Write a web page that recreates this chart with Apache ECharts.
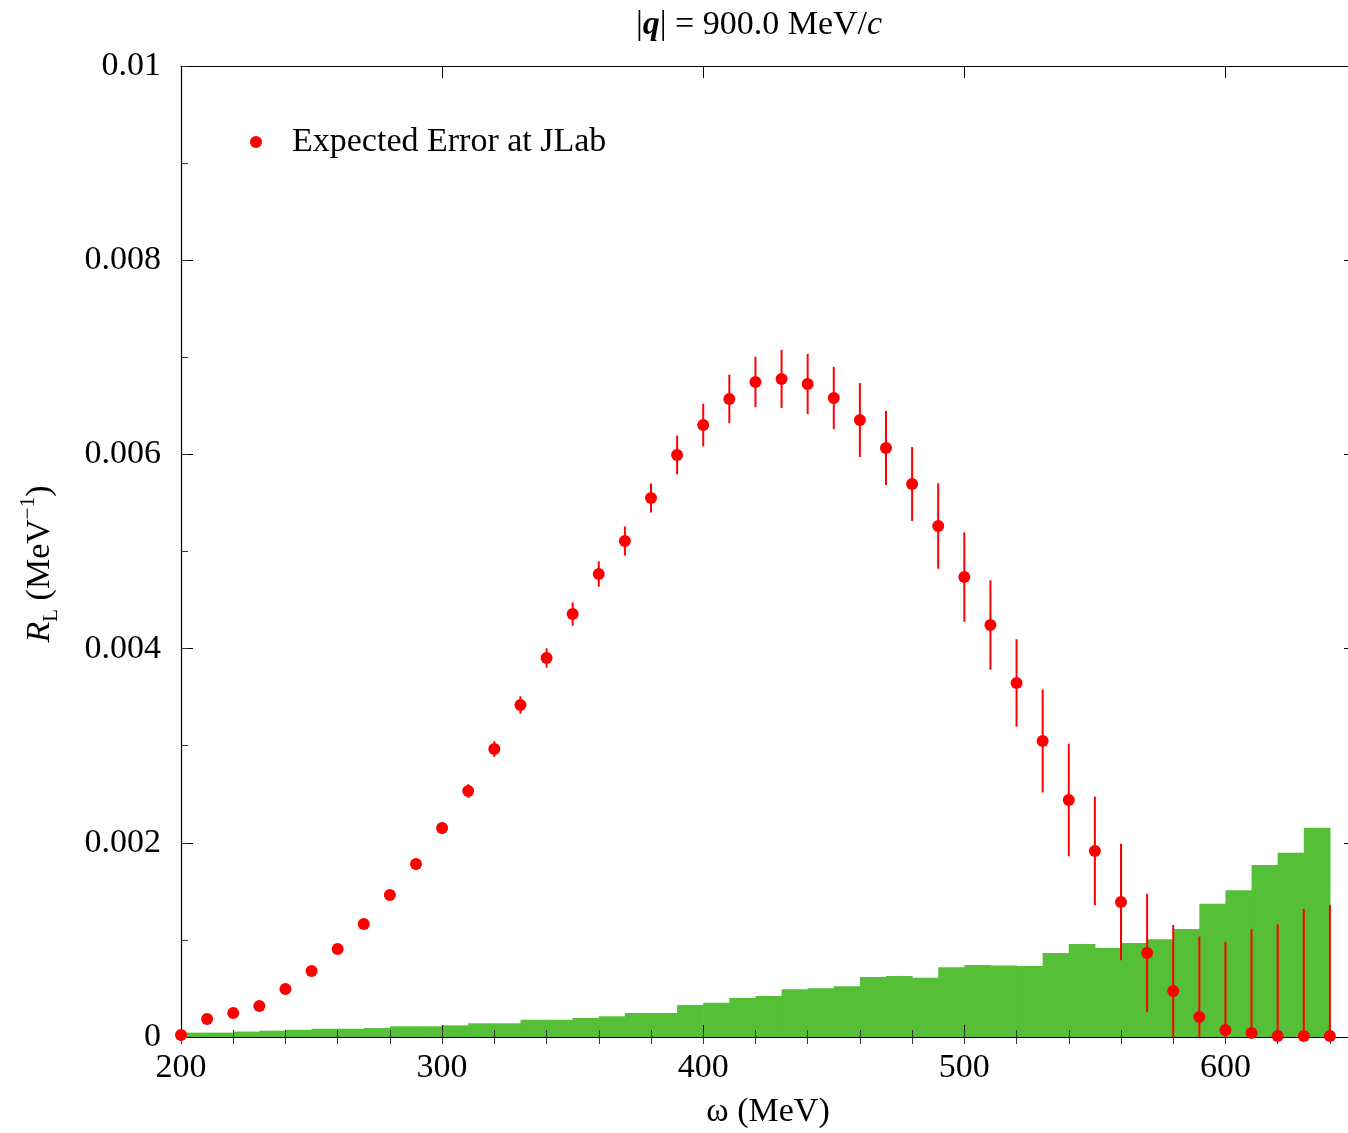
<!DOCTYPE html>
<html><head><meta charset="utf-8">
<script src="https://cdn.jsdelivr.net/npm/echarts@6/dist/echarts.min.js"></script>
<style>html,body{margin:0;padding:0;overflow:hidden;background:#fff}#c{width:1356px;height:1133px}</style>
</head><body><div id="c"></div>
<script>
// ---- data ----
const omega = [200,210,220,230,240,250,260,270,280,290,300,310,320,330,340,350,360,370,380,390,400,410,420,430,440,450,460,470,480,490,500,510,520,530,540,550,560,570,580,590,600,610,620,630,640];
const RL = [0.00002,0.000185,0.000247,0.000319,0.000494,0.00068,0.000906,0.001164,0.001462,0.001782,0.002152,0.002533,0.002966,0.003419,0.003903,0.004356,0.004768,0.005108,0.005551,0.005994,0.006303,0.006571,0.006746,0.006777,0.006725,0.006581,0.006354,0.006066,0.005695,0.005263,0.004737,0.004243,0.003646,0.003048,0.002441,0.001916,0.00139,0.000865,0.000474,0.000206,0.000072,0.00004,0.00001,0.00001,0.00001];
const RLerr = [0.00002,0.00002,0.00002,0.00003,0.00003,0.00003,0.00004,0.00005,0.00005,0.00006,0.00006,0.00007,0.00008,0.00009,0.0001,0.00012,0.00013,0.00015,0.00015,0.0002,0.00022,0.00025,0.00026,0.0003,0.00031,0.00032,0.00038,0.00038,0.00038,0.00044,0.00046,0.00046,0.00045,0.00053,0.00058,0.00056,0.0006,0.00061,0.00068,0.00083,0.00091,0.00107,0.00115,0.00131,0.00135];
const binStart = [200,210,220,230,240,250,260,270,280,290,300,310,320,330,340,350,360,370,380,390,400,410,420,430,440,450,460,470,480,490,500,510,520,530,540,550,560,570,580,590,600,610,620,630];
const binWidth = 10;
const binValue = [0.000045,0.000045,0.000056,0.000065,0.000074,0.000085,0.000085,0.000092,0.00011,0.00011,0.00012,0.000141,0.000141,0.000178,0.000178,0.000196,0.000213,0.000247,0.000247,0.00033,0.000353,0.000402,0.000422,0.000491,0.000501,0.000522,0.000618,0.000628,0.000611,0.000718,0.000741,0.000736,0.000731,0.000865,0.000958,0.000917,0.000968,0.001006,0.001112,0.001373,0.001511,0.001771,0.001898,0.002155];
const xTickLabels = ['200','300','400','500','600'];
const yTickLabels = ['0','0.002','0.004','0.006','0.008','0.01'];
const legendLabel = 'Expected Error at JLab';

// ---- chart ----
const FONT = '"Liberation Serif","Times New Roman",serif';
const FS = 34;
const chart = echarts.init(document.getElementById('c'), null, {renderer:'canvas'});
const G = {left:181, top:66, width:1175, height:971};
const axisLine = {show:true, onZero:false, lineStyle:{color:'#000', width:1.2}};
function xAx(grid, pos, interval, len, labels){
  return {gridIndex:grid, type:'value', min:200, max:650, interval:interval, position:pos, z:3,
    axisLine: grid===0 ? axisLine : {show:false},
    axisTick:{show:true, inside:true, length:len, lineStyle:{color: len>10?'#000':'#333', width:1}},
    axisLabel: labels ? {show:true, fontFamily:FONT, fontSize:FS, color:'#000', margin:14, showMaxLabel:false,
      formatter: v => { const s = String(Math.round(v)); return xTickLabels.includes(s) ? s : ''; }} : {show:false},
    splitLine:{show:false}};
}
function yAx(grid, pos, interval, len, labels){
  return {gridIndex:grid, type:'value', min:0, max:0.01, interval:interval, position:pos, z:3,
    axisLine: grid===0 ? axisLine : {show:false},
    axisTick:{show:true, inside:true, length:len, lineStyle:{color: len>10?'#000':'#333', width:1}},
    axisLabel: labels ? {show:true, fontFamily:FONT, fontSize:FS, color:'#000', margin:20,
      formatter: v => { const i = Math.round(v/0.002); return yTickLabels[i] || ''; }} : {show:false},
    splitLine:{show:false}};
}
const option = {
  animation:false,
  backgroundColor:'#fff',
  grid:[Object.assign({}, G), Object.assign({}, G)],
  xAxis:[xAx(0,'bottom',100,12,true), xAx(0,'top',100,12,false), xAx(1,'bottom',20,7,false), xAx(1,'top',20,7,false)],
  yAxis:[yAx(0,'left',0.002,12,true), yAx(0,'right',0.002,12,false), yAx(1,'left',0.001,7,false), yAx(1,'right',0.001,7,false)],
  legend:{data:[legendLabel], left:245, top:120, icon:'circle', itemWidth:62, itemHeight:12, itemGap:0,
    textStyle:{fontFamily:FONT, fontSize:FS, color:'#000'}},
  series:[
    {type:'custom', name:'hist', xAxisIndex:0, yAxisIndex:0, z:2,
     data: binStart.map((s,i)=>[s, s+binWidth, binValue[i]]),
     encode:{x:[0,1], y:2},
     renderItem:(params, api)=>{
       const p0 = api.coord([api.value(0), api.value(2)]);
       const p1 = api.coord([api.value(1), 0]);
       return {type:'rect', shape:{x:p0[0], y:p0[1], width:p1[0]-p0[0]+0.6, height:p1[1]-p0[1]},
         style:{fill:'#56bf38'}};
     }},
    {type:'custom', name:'err', xAxisIndex:0, yAxisIndex:0, z:4, clip:true,
     data: omega.map((x,i)=>[x, RL[i], RLerr[i]]),
     encode:{x:0, y:1},
     renderItem:(params, api)=>{
       const x = api.value(0), y = api.value(1), e = api.value(2);
       const a = api.coord([x, Math.max(0, y-e)]);
       const b = api.coord([x, y+e]);
       return {type:'line', shape:{x1:a[0], y1:a[1], x2:b[0], y2:b[1]}, style:{stroke:'#ff0000', lineWidth:2}};
     }},
    {type:'scatter', name:legendLabel, xAxisIndex:0, yAxisIndex:0, z:5, clip:false,
     symbol:'circle', symbolSize:12, itemStyle:{color:'#ff0000', opacity:1},
     data: omega.map((x,i)=>[x, RL[i]])}
  ],
  graphic:[
    {type:'text', x:759, y:25, style:{text:'|{bq|q}| = 900.0 MeV/{ic|c}', align:'center', verticalAlign:'middle',
      fontFamily:FONT, fontSize:FS, fill:'#000',
      rich:{bq:{fontFamily:FONT, fontSize:FS, fontStyle:'italic', fontWeight:'bold', fill:'#000'},
            ic:{fontFamily:FONT, fontSize:FS, fontStyle:'italic', fill:'#000'}}}},
    {type:'text', x:768, y:1112, style:{text:'ω (MeV)', align:'center', verticalAlign:'middle', fontFamily:FONT, fontSize:FS, fill:'#000'}},
    {type:'text', x:40, y:564, rotation:Math.PI/2, style:{text:'{i|R}{sub|L}{n| (MeV}{sup|−1}{n|)}', align:'center', verticalAlign:'middle',
      fontFamily:FONT, fontSize:FS, fill:'#000',
      rich:{i:{fontFamily:FONT, fontSize:FS, fontStyle:'italic', lineHeight:44, fill:'#000'},
            n:{fontFamily:FONT, fontSize:FS, lineHeight:44, fill:'#000'},
            sub:{fontFamily:FONT, fontSize:21, verticalAlign:'bottom', fill:'#000'},
            sup:{fontFamily:FONT, fontSize:21, verticalAlign:'top', fill:'#000'}}}}
  ]
};
chart.setOption(option);
</script></body></html>
